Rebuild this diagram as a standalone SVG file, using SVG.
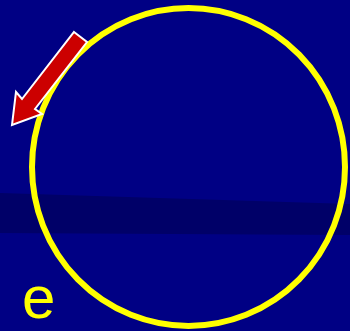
<svg xmlns="http://www.w3.org/2000/svg" width="350" height="331" viewBox="0 0 350 331">
  <style>
    .bg { fill: #000084; }
    .band { fill: #000068; }
    .ring { fill: none; stroke: #ffff00; stroke-width: 6; }
    .arrow { fill: #cc0000; stroke: #ffffff; stroke-width: 2; stroke-linejoin: miter; }
    .lbl { fill: #ffff00; font-family: "Liberation Sans", Arial, sans-serif; font-size: 60px; }
  </style>
  <rect class="bg" x="0" y="0" width="350" height="331"/>
  <polygon class="band" points="0,193 350,204 350,235 0,233"/>
  <g id="circle">
    <ellipse class="ring" cx="188.5" cy="167" rx="156.5" ry="159"/>
  </g>
  <g id="arrow">
    <polygon class="arrow" points="74,32 87,42 35,109 42,114 12,125 16,92 22,99"/>
  </g>
  <g id="label">
    <text class="lbl" x="22" y="318">e</text>
  </g>
</svg>
